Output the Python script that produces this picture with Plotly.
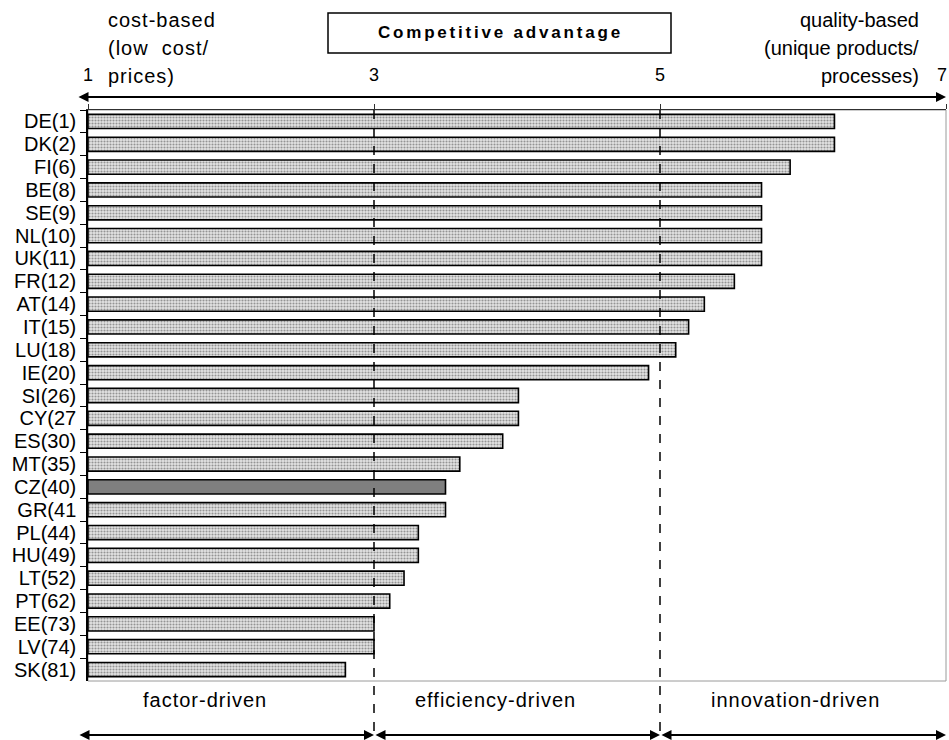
import plotly.graph_objects as go

countries = ["DE(1)", "DK(2)", "FI(6)", "BE(8)", "SE(9)", "NL(10)", "UK(11)", "FR(12)",
             "AT(14)", "IT(15)", "LU(18)", "IE(20)", "SI(26)", "CY(27", "ES(30)", "MT(35)",
             "CZ(40)", "GR(41", "PL(44)", "HU(49)", "LT(52)", "PT(62)", "EE(73)", "LV(74)", "SK(81)"]
scores = [6.22, 6.22, 5.91, 5.71, 5.71, 5.71, 5.71, 5.52,
          5.31, 5.20, 5.11, 4.92, 4.01, 4.01, 3.90, 3.60,
          3.50, 3.50, 3.31, 3.31, 3.21, 3.11, 3.00, 3.00, 2.80]
highlight = "CZ(40)"
scale_ticks = [1, 3, 5, 7]
stage_bounds = [3, 5]
stage_labels = ["factor-driven", "efficiency-driven", "innovation-driven"]
stage_label_pos = [1.82, 3.85, 5.95]
left_header = ["cost-based", "(low  cost/", "prices)"]
right_header = ["quality-based", "(unique products/", "processes)"]
title_text = "Competitive advantage"

FONT = "Liberation Sans, Arial, sans-serif"
base = scale_ticks[0]

colors = ["#7f7f7f" if c == highlight else "#e4e4e4" for c in countries]
shapes_pat = ["" if c == highlight else "." for c in countries]

fig = go.Figure(go.Bar(
    y=countries,
    x=[s - base for s in scores],
    base=base,
    orientation="h",
    width=0.62,
    marker=dict(
        color=colors,
        line=dict(color="black", width=1.6),
        pattern=dict(shape=shapes_pat, fgcolor="#d4d4d4", bgcolor="#ececec", size=3, solidity=0.4),
    ),
))

W, H = 949, 740
ml, mr, mt, mb = 88, 3, 110, 59
ph = H - mt - mb
pw = W - ml - mr

def py(y):
    return (H - mb - y) / ph

def px(x):
    return (x - ml) / pw

def spaced(t, s):
    return '<span style="letter-spacing:%spx">%s</span>' % (s, t)

shapes = [
    dict(type="rect", xref="paper", yref="paper", x0=0, x1=1, y0=0, y1=1,
         line=dict(color="#9a9a9a", width=1), layer="below"),
    dict(type="rect", xref="paper", yref="paper", x0=px(328), x1=px(671), y0=py(53), y1=py(13),
         line=dict(color="black", width=1.5)),
]
for b in stage_bounds:
    shapes.append(dict(type="line", xref="x", yref="paper", x0=b, x1=b, y0=1, y1=py(733),
                       line=dict(color="black", width=1.5, dash="dash")))

ann = []
ann.append(dict(xref="paper", yref="paper", x=px(500), y=py(33),
                text="<b>" + spaced(title_text, 2.8) + "</b>",
                showarrow=False, font=dict(size=17, family=FONT, color="black"),
                xanchor="center", yanchor="middle"))
for i, t in enumerate(left_header):
    ann.append(dict(xref="paper", yref="paper", x=px(106), y=py(20 + 28 * i), text=spaced(t, 1),
                    showarrow=False, xanchor="left", yanchor="middle",
                    font=dict(size=20, family=FONT, color="black")))
for i, t in enumerate(right_header):
    ann.append(dict(xref="paper", yref="paper", x=px(921), y=py(20 + 28 * i), text=t,
                    showarrow=False, xanchor="right", yanchor="middle",
                    font=dict(size=20, family=FONT, color="black")))
for v in scale_ticks:
    last = v == scale_ticks[-1]
    ann.append(dict(xref="x", yref="paper", x=v, y=py(75), text=str(v), showarrow=False,
                    xanchor="right" if last else "center", xshift=3 if last else 0,
                    yanchor="middle",
                    font=dict(size=18, family=FONT, color="black")))
ann.append(dict(xref="x", yref="paper", x=scale_ticks[-1], y=py(97), axref="x", ayref="pixel",
                ax=base - 11 / 143, ay=0, text="", showarrow=True, arrowhead=2, arrowside="end+start",
                arrowsize=1, arrowwidth=2, arrowcolor="black", standoff=0, startstandoff=0))
segs = [(base - 10 / 143, stage_bounds[0]), (stage_bounds[0], stage_bounds[1]),
        (stage_bounds[1], scale_ticks[-1])]
for a, b in segs:
    ann.append(dict(xref="x", yref="paper", x=b, y=py(735), axref="x", ayref="pixel",
                    ax=a, ay=0, text="", showarrow=True, arrowhead=2, arrowside="end+start",
                    arrowsize=1, arrowwidth=2, arrowcolor="black", standoff=0, startstandoff=0))
for t, p in zip(stage_labels, stage_label_pos):
    ann.append(dict(xref="x", yref="paper", x=p, y=py(700), text=spaced(t, 1), showarrow=False,
                    xanchor="center", yanchor="middle",
                    font=dict(size=20, family=FONT, color="black")))

fig.update_layout(
    width=W, height=H,
    margin=dict(l=ml, r=mr, t=mt, b=mb, pad=0),
    plot_bgcolor="white", paper_bgcolor="white",
    showlegend=False,
    shapes=shapes, annotations=ann,
    font=dict(family=FONT, color="black"),
    xaxis=dict(range=[scale_ticks[0], scale_ticks[-1]], side="top", showgrid=False, zeroline=False,
               showline=True, linecolor="#303030", linewidth=1,
               ticks="outside", ticklen=5, tickcolor="#303030", tickvals=scale_ticks,
               showticklabels=False, fixedrange=True),
    yaxis=dict(autorange="reversed", showgrid=False, zeroline=False,
               tickmode="linear", dtick=1,
               showline=True, linecolor="black", linewidth=1.5,
               ticks="outside", ticklen=6, tickcolor="black", tickson="boundaries",
               tickfont=dict(size=20, family=FONT, color="black"), ticklabelstandoff=6),
)

fig.write_html("out.html", config={"displayModeBar": False},
               post_script="document.body.style.margin='0';document.body.style.overflow='hidden';")
